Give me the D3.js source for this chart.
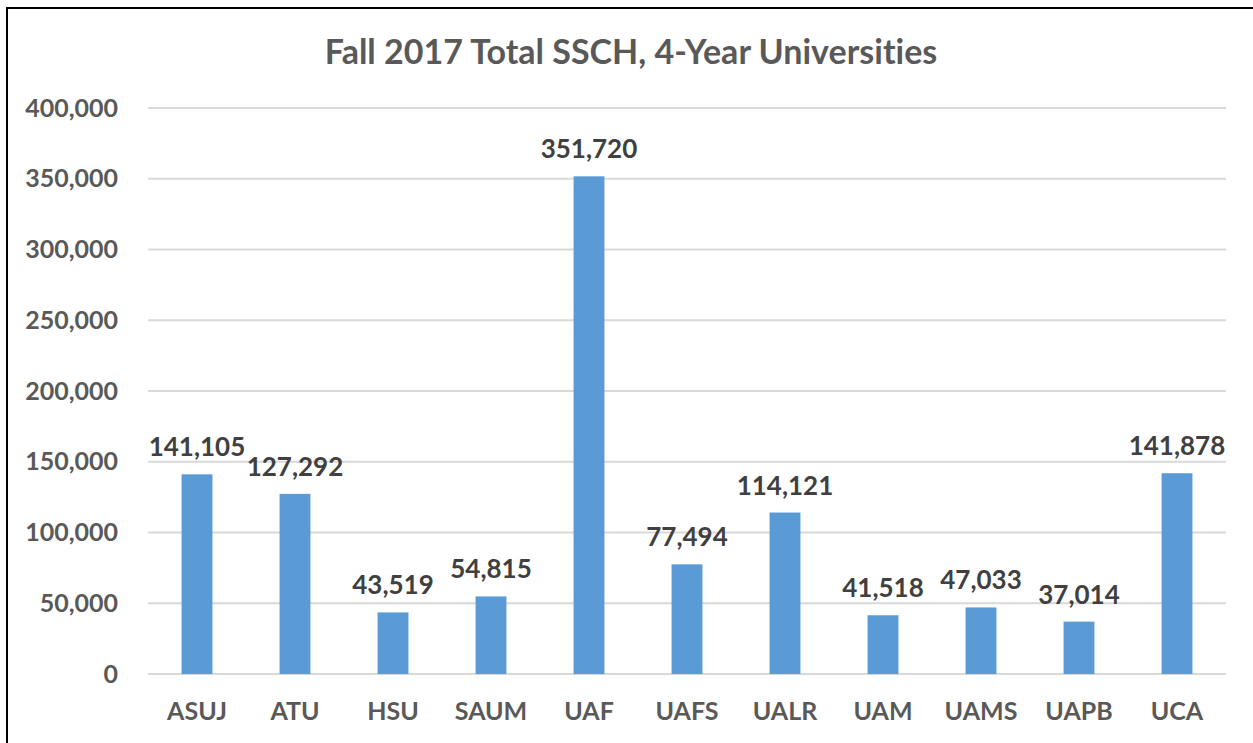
<!DOCTYPE html>
<html lang="en">
<head>
<meta charset="utf-8">
<title>Fall 2017 Total SSCH</title>
<script src="https://d3js.org/d3.v7.min.js"></script>
<style>
  body { margin: 0; background: #fff; }
  text { font-family: Lato, "Open Sans", sans-serif; font-weight: bold; font-variant-ligatures: none; }
</style>
</head>
<body>
<script>
// chart data
var schools = ["ASUJ", "ATU", "HSU", "SAUM", "UAF", "UAFS", "UALR", "UAM", "UAMS", "UAPB", "UCA"];
var ssch = [141105, 127292, 43519, 54815, 351720, 77494, 114121, 41518, 47033, 37014, 141878];
var yTicks = [0, 50000, 100000, 150000, 200000, 250000, 300000, 350000, 400000];

var w = 1253, h = 743;
var plotLeft = 148, plotRight = 1226, plotTop = 108, plotBottom = 674;

var svg = d3.select("body").append("svg").attr("width", w).attr("height", h);

// outer border (cut off at right and bottom)
svg.append("rect").attr("x", 7).attr("y", 8).attr("width", w + 10).attr("height", h + 10)
  .attr("fill", "none").attr("stroke", "#000").attr("stroke-width", 2);

var x = d3.scaleBand().domain(schools).range([plotLeft, plotRight]).paddingInner(0.685).paddingOuter(0.3425);
var y = d3.scaleLinear().domain([0, 400000]).range([plotBottom, plotTop]);

// gridlines
svg.append("g").selectAll("line").data(yTicks).enter().append("line")
  .attr("x1", plotLeft).attr("x2", plotRight)
  .attr("y1", function(d) { return y(d); }).attr("y2", function(d) { return y(d); })
  .attr("stroke", "#d9d9d9").attr("stroke-width", 2);

// y axis labels
var yAxis = d3.axisLeft(y).tickValues(yTicks).tickFormat(d3.format(",")).tickSize(0).tickPadding(30);
var ya = svg.append("g").attr("transform", "translate(" + plotLeft + ",0)").call(yAxis);
ya.select(".domain").remove();
ya.selectAll("text").attr("font-size", 25).attr("fill", "#595959")
  .style("font-family", "Lato, sans-serif").style("font-weight", "bold");

// x axis labels
var xAxis = d3.axisBottom(x).tickSize(0).tickPadding(28);
var xa = svg.append("g").attr("transform", "translate(0," + plotBottom + ")").call(xAxis);
xa.select(".domain").remove();
xa.selectAll("text").attr("font-size", 25).attr("fill", "#595959")
  .style("font-family", "Lato, sans-serif").style("font-weight", "bold");

// bars
svg.append("g").selectAll("rect").data(ssch).enter().append("rect")
  .attr("x", function(d, i) { return x(schools[i]); })
  .attr("width", x.bandwidth())
  .attr("y", function(d) { return y(d); })
  .attr("height", function(d) { return y(0) - y(d); })
  .attr("fill", "#5b9bd5");

// data labels
svg.append("g").selectAll("text").data(ssch).enter().append("text")
  .attr("x", function(d, i) { return x(schools[i]) + x.bandwidth() / 2; })
  .attr("y", function(d) { return y(d) - 18; })
  .attr("text-anchor", "middle")
  .attr("font-size", 26).attr("fill", "#404040")
  .text(function(d) { return d3.format(",")(d); });

// title
svg.append("text").attr("x", 631).attr("y", 64).attr("text-anchor", "middle")
  .attr("font-size", 34).attr("fill", "#595959")
  .text("Fall 2017 Total SSCH, 4-Year Universities");
</script>
</body>
</html>
